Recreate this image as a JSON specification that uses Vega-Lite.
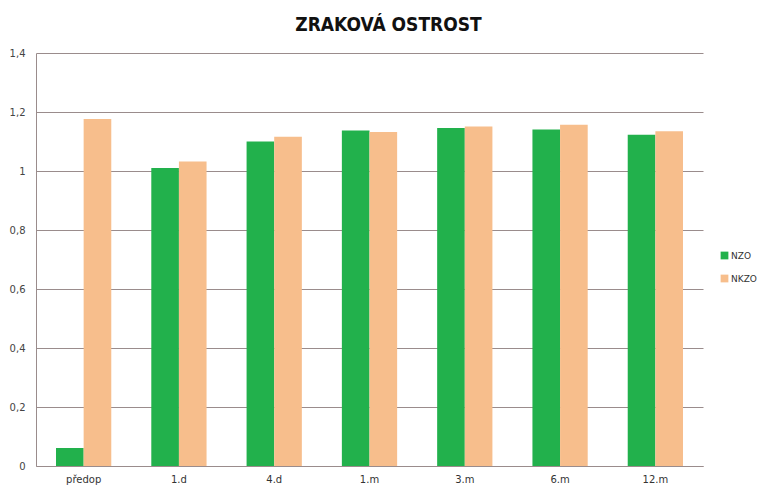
{
  "$schema": "https://vega.github.io/schema/vega-lite/v6.json",
  "width": 667,
  "height": 413,
  "autosize": "none",
  "padding": {"left": 36, "top": 53, "right": 54, "bottom": 22},
  "background": "white",
  "config": {
    "locale": {"number": {"decimal": ",", "thousands": " ", "grouping": [3], "currency": ["", " Kč"]}},
    "view": {"stroke": null},
    "font": "DejaVu Sans"
  },
  "title": {
    "text": "ZRAKOVÁ OSTROST",
    "font": "DejaVu Sans Condensed",
    "fontSize": 19,
    "fontWeight": "bold",
    "color": "#111111",
    "anchor": "middle",
    "dx": 19,
    "offset": 13
  },
  "data": {
    "values": [
      {"obdobi": "předop", "skupina": "NZO", "hodnota": 0.061},
      {"obdobi": "předop", "skupina": "NKZO", "hodnota": 1.176},
      {"obdobi": "1.d", "skupina": "NZO", "hodnota": 1.010},
      {"obdobi": "1.d", "skupina": "NKZO", "hodnota": 1.032},
      {"obdobi": "4.d", "skupina": "NZO", "hodnota": 1.100},
      {"obdobi": "4.d", "skupina": "NKZO", "hodnota": 1.116},
      {"obdobi": "1.m", "skupina": "NZO", "hodnota": 1.137},
      {"obdobi": "1.m", "skupina": "NKZO", "hodnota": 1.132},
      {"obdobi": "3.m", "skupina": "NZO", "hodnota": 1.146},
      {"obdobi": "3.m", "skupina": "NKZO", "hodnota": 1.151},
      {"obdobi": "6.m", "skupina": "NZO", "hodnota": 1.141},
      {"obdobi": "6.m", "skupina": "NKZO", "hodnota": 1.157},
      {"obdobi": "12.m", "skupina": "NZO", "hodnota": 1.123},
      {"obdobi": "12.m", "skupina": "NKZO", "hodnota": 1.135}
    ]
  },
  "mark": {"type": "bar"},
  "encoding": {
    "x": {
      "field": "obdobi",
      "type": "nominal",
      "sort": ["předop", "1.d", "4.d", "1.m", "3.m", "6.m", "12.m"],
      "scale": {"paddingInner": 0.42, "paddingOuter": 0.21},
      "axis": {
        "title": null,
        "labelAngle": 0,
        "labelFontSize": 10,
        "labelColor": "#333333",
        "labelPadding": 8,
        "ticks": false,
        "domainColor": "#9a8c8c",
        "grid": false
      }
    },
    "xOffset": {"field": "skupina", "sort": ["NZO", "NKZO"], "scale": {"paddingInner": 0}},
    "y": {
      "field": "hodnota",
      "type": "quantitative",
      "scale": {"domain": [0, 1.4], "nice": false},
      "axis": {
        "title": null,
        "values": [0, 0.2, 0.4, 0.6, 0.8, 1, 1.2, 1.4],
        "format": "~g",
        "labelFontSize": 10,
        "labelColor": "#444444",
        "labelPadding": 11,
        "ticks": false,
        "domainColor": "#9a8c8c",
        "gridColor": "#9a8c8c",
        "gridWidth": 1
      }
    },
    "color": {
      "field": "skupina",
      "type": "nominal",
      "sort": ["NZO", "NKZO"],
      "scale": {"domain": ["NZO", "NKZO"], "range": ["#22b14c", "#f7be8c"]},
      "legend": {
        "title": null,
        "orient": "none",
        "legendX": 684,
        "legendY": 198,
        "symbolType": "square",
        "symbolSize": 60,
        "symbolStrokeWidth": 0,
        "labelFontSize": 9,
        "labelColor": "#333333",
        "labelOffset": 2,
        "rowPadding": 13
      }
    }
  }
}
